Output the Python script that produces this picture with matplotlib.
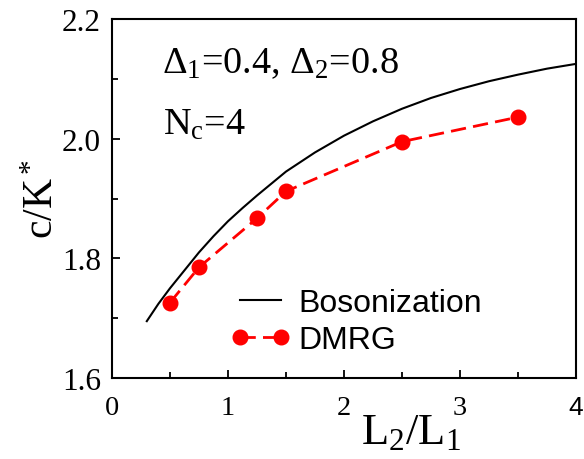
import matplotlib
matplotlib.use("Agg")
import matplotlib.pyplot as plt
from matplotlib.ticker import MultipleLocator

# Data
boson_x = [0.3, 0.4, 0.5, 0.6, 0.75, 0.875, 1.0, 1.125, 1.25, 1.5, 1.75, 2.0,
           2.25, 2.5, 2.75, 3.0, 3.25, 3.5, 3.75, 4.0]
boson_y = [1.695, 1.724, 1.750, 1.774, 1.810, 1.837, 1.862, 1.884, 1.905, 1.945,
           1.977, 2.005, 2.029, 2.050, 2.068, 2.083, 2.096, 2.107, 2.117, 2.125]
dmrg_x = [0.5, 0.75, 1.25, 1.5, 2.5, 3.5]
dmrg_y = [1.726, 1.785, 1.867, 1.912, 1.995, 2.036]
xticks = [0, 1, 2, 3, 4]
yticks = [1.6, 1.8, 2.0, 2.2]
ytick_labels = ["1.6", "1.8", "2.0", "2.2"]

SERIF = "Liberation Serif"
SANS = "Liberation Sans"
plt.rcParams["mathtext.fontset"] = "custom"
plt.rcParams["mathtext.rm"] = SERIF
plt.rcParams["mathtext.it"] = SERIF + ":italic"
plt.rcParams["mathtext.bf"] = SERIF + ":bold"

fig = plt.figure(figsize=(5.84, 4.6), dpi=100)
ax = fig.add_axes([112 / 584, 1 - 379 / 460, 464 / 584, 359 / 460])

ax.plot(boson_x, boson_y, color="black", lw=1.5, label="Bosonization")
ax.plot(dmrg_x, dmrg_y, color="red", lw=2.0, ls=(0, (5.5, 2.6)), marker="o",
        markersize=10.5, label="DMRG")

ax.set_xlim(0, 4)
ax.set_ylim(1.6, 2.2)
ax.set_xticks(xticks)
ax.set_yticks(yticks)
ax.set_yticklabels(ytick_labels)
ax.xaxis.set_minor_locator(MultipleLocator(0.5))
ax.yaxis.set_minor_locator(MultipleLocator(0.1))
ax.tick_params(which="both", direction="in", top=False, right=False, width=1.3)
ax.tick_params(which="major", length=6)
ax.tick_params(which="minor", length=4)
ax.tick_params(axis="x", pad=12)
ax.tick_params(axis="y", pad=8)
xlabs = ax.get_xticklabels()
for lab in xlabs:
    lab.set_fontfamily(SERIF)
    lab.set_fontsize(20.5)
xlabs[-1].set_fontfamily(SANS)
xlabs[-1].set_fontsize(19)
for lab in ax.get_yticklabels():
    lab.set_fontfamily(SERIF)
    lab.set_fontsize(22.5)
for sp in ax.spines.values():
    sp.set_linewidth(1.5)

ax.set_xlabel(r"L$_2$/L$_1$", fontfamily=SERIF, fontsize=32)
ax.xaxis.set_label_coords(0.644, -0.095)
ax.xaxis.label.set_verticalalignment("top")
ax.set_ylabel(r"c/K$^*$", fontfamily=SERIF, fontsize=30)
ax.yaxis.label.set_verticalalignment("center")
ax.yaxis.set_label_coords(-0.15, 0.50)

ax.text(0.108, 0.852, r"$\Delta_1$=0.4, $\Delta_2$=0.8", transform=ax.transAxes,
        fontfamily=SERIF, fontsize=27.5, ha="left", va="baseline")
ax.text(0.110, 0.68, r"N$_\mathrm{c}$=4", transform=ax.transAxes,
        fontfamily=SERIF, fontsize=27.5, ha="left", va="baseline")

leg = ax.legend(loc="upper left", bbox_to_anchor=((230.5 - 112) / 464, (379 - 289) / 359),
                frameon=False, prop={"family": SANS, "size": 23},
                handlelength=1.88, handletextpad=0.23, labelspacing=0.22,
                borderpad=0, borderaxespad=0, numpoints=2)

fig.savefig("out.png", dpi=100)
